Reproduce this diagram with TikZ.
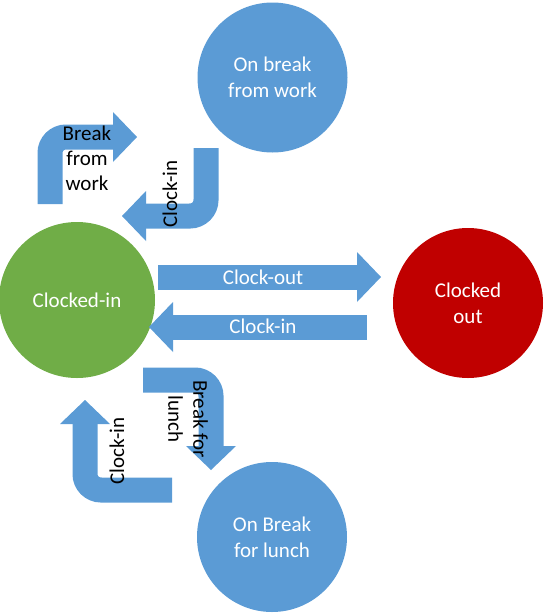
\documentclass[tikz,border=0pt]{standalone}
\usepackage{fontspec}
\setmainfont{Carlito}
\usetikzlibrary{arrows.meta}
\definecolor{stateblue}{HTML}{5B9BD5}
\definecolor{stategreen}{HTML}{70AD47}
\definecolor{statered}{HTML}{C00000}
\tikzset{
  state/.style={circle,minimum size=150pt,inner sep=0pt,text=white,align=center,
    font=\fontsize{21}{26}\selectfont},
  blockarrow/.style={draw=stateblue,line width=25pt,rounded corners=16pt,
    -{Triangle[length=24pt,width=50pt,line width=0pt]}},
  lbl/.style={align=center,font=\fontsize{21}{25}\selectfont}
}

\begin{document}
\begin{tikzpicture}[x=1pt,y=-1pt]
\useasboundingbox (0,0) rectangle (544,614);
% the four states
\node[state,fill=stateblue] (brk) at (272.5,77.5) {On break\\from work};
\node[state,fill=stategreen,minimum size=156pt] (in) at (77,300) {Clocked-in};
\node[state,fill=statered] (out) at (468,303) {Clocked\\out};
\node[state,fill=stateblue] (lunch) at (272,537) {On Break\\for lunch};
% arrow ends
\coordinate (a1) at (50,204);  \coordinate (a1k) at (50,137);  \coordinate (a1e) at (137,137);
\coordinate (a2) at (206,148); \coordinate (a2k) at (206,216); \coordinate (a2e) at (122,216);
\coordinate (a3) at (143,380); \coordinate (a3k) at (211,380); \coordinate (a3e) at (211,470);
\coordinate (a4) at (172,490); \coordinate (a4k) at (85,490);  \coordinate (a4e) at (85,400);
\coordinate (a5) at (158,277); \coordinate (a5e) at (381,277);
\coordinate (a6) at (367,327); \coordinate (a6e) at (149,327);
\draw[blockarrow] (a1) -- (a1k) -- (a1e);
\draw[blockarrow] (a2) -- (a2k) -- (a2e);
\draw[blockarrow] (a3) -- (a3k) -- (a3e);
\draw[blockarrow] (a4) -- (a4k) -- (a4e);
\draw[blockarrow] (a5) -- (a5e);
\draw[blockarrow] (a6) -- (a6e);
% labels
\node[lbl] (l1) at (87,158) {Break\\from\\work};
\node[lbl,rotate=90] (l2) at (170,194) {Clock-in};
\node[lbl,rotate=-90] (l3) at (188,419) {Break for\\lunch};
\node[lbl,rotate=90] (l4) at (117,451) {Clock-in};
\node[lbl,text=white] (l5) at (263,277) {Clock-out};
\node[lbl,text=white] (l6) at (263,326) {Clock-in};
\end{tikzpicture}
\end{document}
